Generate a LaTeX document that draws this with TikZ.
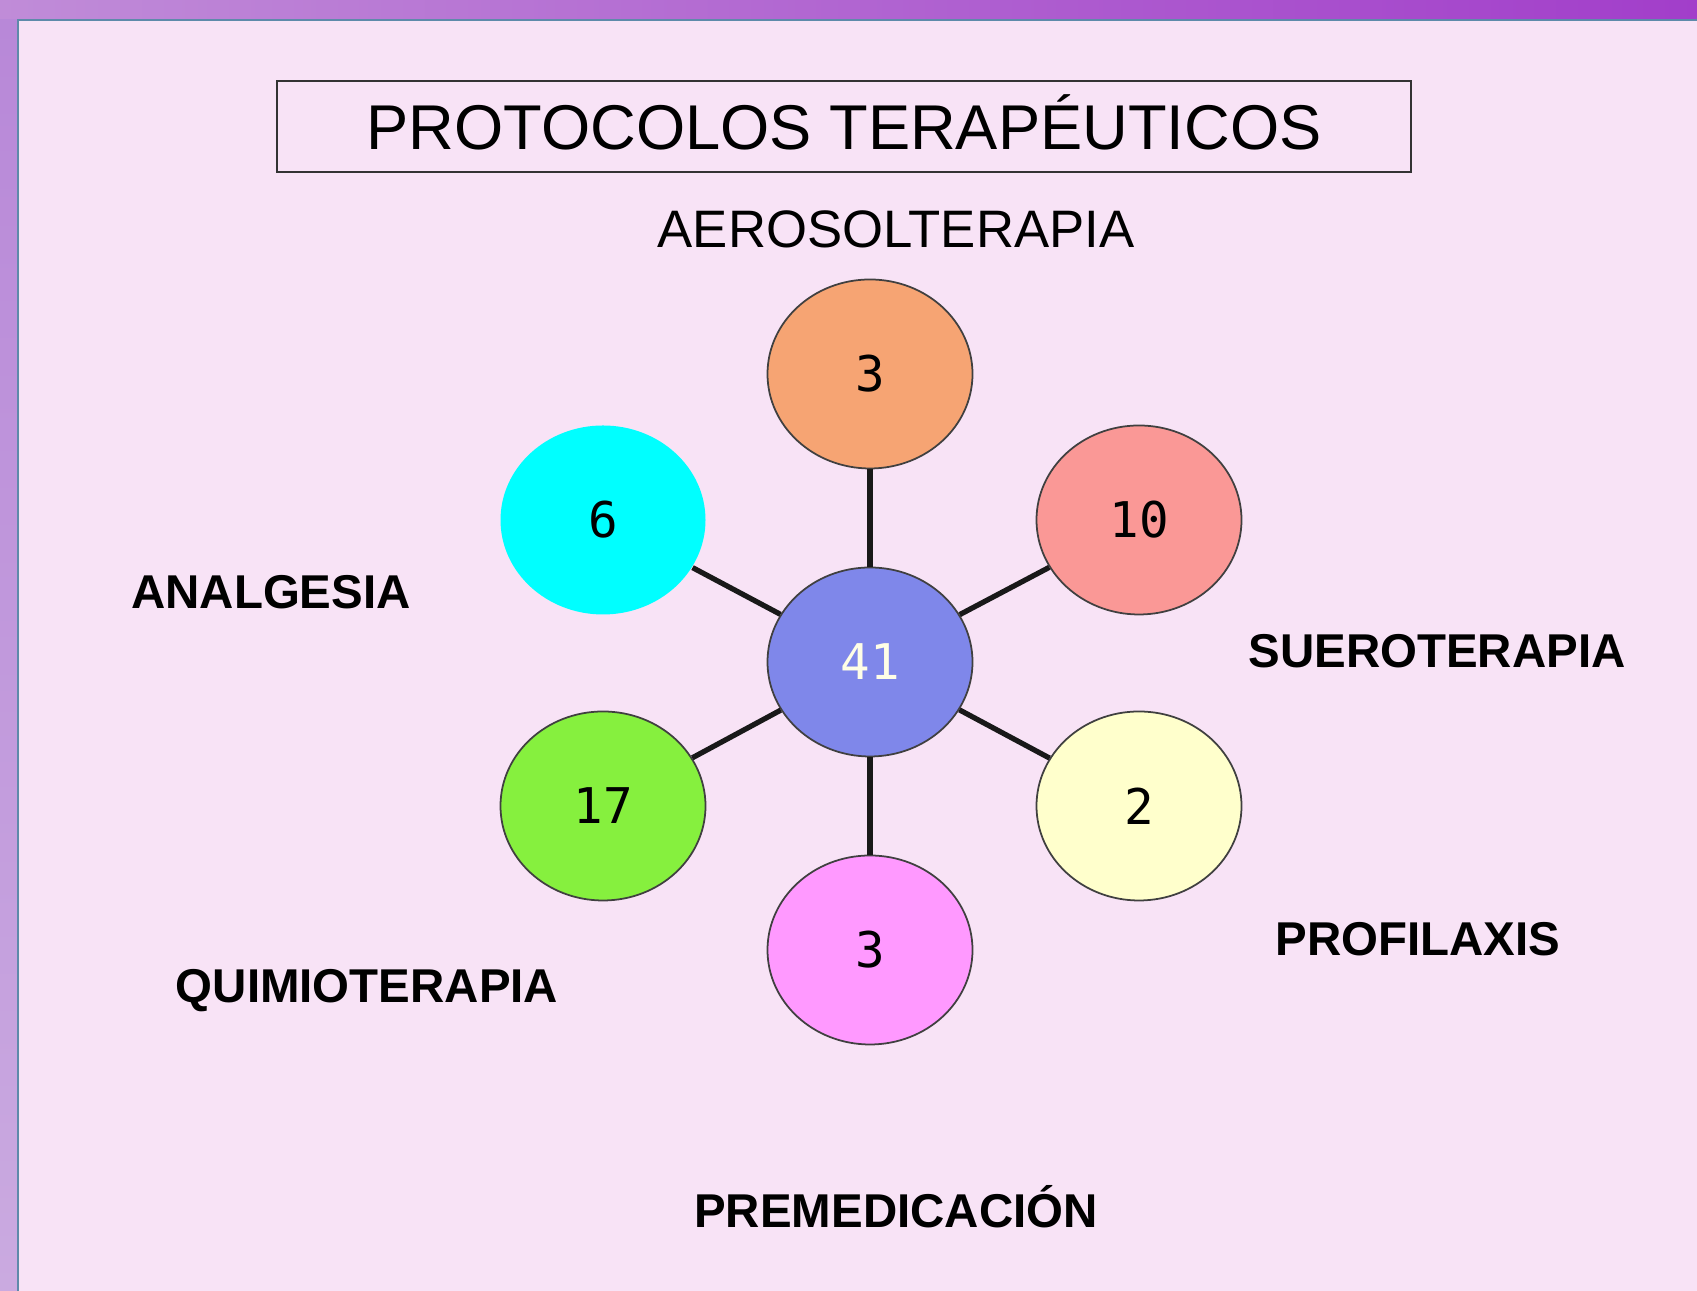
\documentclass[tikz,border=0pt]{standalone}
\usepackage{fontspec}
\usepackage{xcolor}
\setmainfont{Liberation Sans}
\newfontfamily\digitfont{DejaVu Sans Mono}
\usetikzlibrary{shapes.geometric}

\definecolor{pagepink}{HTML}{F8E3F6}
\definecolor{frameblue}{HTML}{5E8AAA}
\definecolor{stripleft}{HTML}{C08CD8}
\definecolor{stripright}{HTML}{A23ECA}
\definecolor{sidetop}{HTML}{B888D8}
\definecolor{sidebottom}{HTML}{CAAAE0}
\definecolor{coreblue}{HTML}{7F87EA}
\definecolor{aeroorange}{HTML}{F6A473}
\definecolor{sueropink}{HTML}{FA9896}
\definecolor{profiyellow}{HTML}{FFFFCC}
\definecolor{premepink}{HTML}{FF99FF}
\definecolor{quimiogreen}{HTML}{86F03E}
\definecolor{analgcyan}{HTML}{00FFFF}

\tikzset{
  blob/.style={ellipse, minimum width=2.05cm, minimum height=1.89cm, inner sep=0pt,
    draw=black!75, line width=0.5pt, font=\digitfont\fontsize{14}{16}\selectfont},
  spoke/.style={line width=1.5pt, black!90},
  tag/.style={font=\bfseries\fontsize{13.5}{16}\selectfont, text height=9.7pt, text depth=0pt, inner sep=0pt}
}

\begin{document}
\begin{tikzpicture}

% background
\useasboundingbox (0,0) rectangle (16.97,12.91);
\fill[left color=stripleft, right color=stripright] (0,12.71) rectangle (16.97,12.91);
\fill[top color=sidetop, bottom color=sidebottom] (0,0) rectangle (0.18,12.71);
\fill[pagepink] (0.18,0) rectangle (16.97,12.71);
\draw[frameblue, line width=0.8pt] (0.18,0) -- (0.18,12.71) -- (16.97,12.71);

% title
\node[draw=black!80, line width=0.6pt, minimum width=11.34cm, minimum height=0.91cm, inner sep=0pt,
  font=\fontsize{18}{20}\selectfont, text height=12.9pt, text depth=0pt] (title) at (8.44,11.645) {PROTOCOLOS TERAPÉUTICOS};

% circles
\node[blob, fill=coreblue, text=yellow!10] (core) at (8.70,6.29) {41};
\node[blob, fill=aeroorange] (aero) at (8.70,9.17) {3};
\node[blob, fill=sueropink] (suero) at (11.39,7.71) {10};
\node[blob, fill=profiyellow] (profi) at (11.39,4.85) {2};
\node[blob, fill=premepink] (preme) at (8.70,3.41) {3};
\node[blob, fill=quimiogreen] (quimio) at (6.03,4.85) {17};
\node[blob, fill=analgcyan, draw=none] (analg) at (6.03,7.71) {6};

% spokes
\draw[spoke] (core) -- (aero);
\draw[spoke] (core) -- (suero);
\draw[spoke] (core) -- (profi);
\draw[spoke] (core) -- (preme);
\draw[spoke] (core) -- (quimio);
\draw[spoke] (core) -- (analg);

% labels
\node[inner sep=0pt, font=\fontsize{15}{18}\selectfont, text height=10.8pt, text depth=0pt] (aerotag) at (8.96,10.62) {AEROSOLTERAPIA};
\node[tag] (analgtag) at (2.71,7.00) {ANALGESIA};
\node[tag] (suerotag) at (14.37,6.41) {SUEROTERAPIA};
\node[tag] (profitag) at (14.18,3.53) {PROFILAXIS};
\node[tag] (quimiotag) at (3.67,3.06) {QUIMIOTERAPIA};
\node[tag] (pretag) at (8.96,0.81) {PREMEDICACIÓN};

\end{tikzpicture}
\end{document}
